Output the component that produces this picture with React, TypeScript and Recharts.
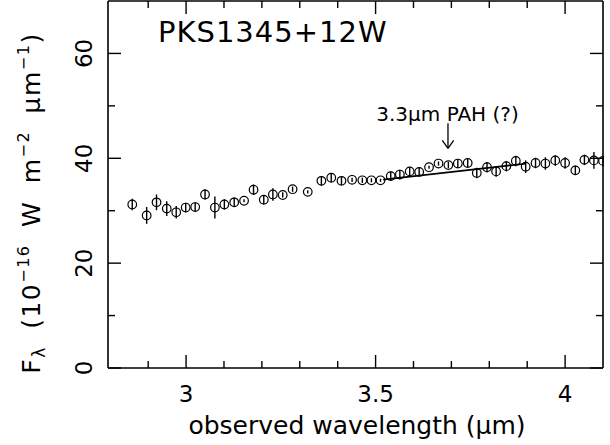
import React from 'react';
import { ScatterChart, Scatter, XAxis, YAxis, ErrorBar, ReferenceLine } from 'recharts';

const waveX = [
  2.858, 2.896, 2.922, 2.949, 2.974, 2.999, 3.024, 3.05, 3.076, 3.101,
  3.127, 3.153, 3.178, 3.205, 3.229, 3.255, 3.281, 3.321, 3.357, 3.383,
  3.41, 3.438, 3.465, 3.489, 3.513, 3.54, 3.564, 3.59, 3.615, 3.641,
  3.666, 3.692, 3.717, 3.743, 3.767, 3.794, 3.818, 3.845, 3.87, 3.896,
  3.922, 3.948, 3.974, 4.0, 4.027, 4.051, 4.076, 4.1,
];
const fluxY = [
  31.2, 29.1, 31.6, 30.4, 29.7, 30.6, 30.7, 33.1, 30.6, 31.2,
  31.6, 31.9, 34.0, 32.1, 33.1, 33.0, 34.1, 33.6, 35.7, 36.3,
  35.7, 35.9, 35.8, 35.8, 35.8, 36.6, 36.9, 37.5, 37.4, 38.3,
  39.0, 38.7, 39.0, 39.1, 37.2, 38.3, 37.5, 38.5, 39.5, 38.4,
  39.1, 39.0, 39.6, 39.1, 37.7, 39.7, 39.6, 39.5,
];
const fluxErr = [
  1.1, 1.6, 1.5, 1.4, 1.2, 0.9, 0.9, 1.0, 2.1, 1.0,
  0.9, 0.3, 1.0, 0.9, 1.2, 0.5, 0.5, 0.3, 0.9, 0.9,
  0.8, 0.4, 0.5, 0.4, 0.3, 0.9, 0.9, 0.8, 0.8, 0.3,
  0.4, 0.6, 0.8, 0.8, 1.0, 1.0, 1.0, 1.0, 1.0, 1.2,
  1.0, 1.2, 1.0, 1.1, 0.9, 1.0, 1.6, 1.0,
];

const continuumX = [3.52, 3.897];
const continuumY = [35.94, 39.0];

const arrowX = 3.691;
const arrowTopY = 46.7;
const arrowTipY = 41.9;
const arrowHeadY = 43.43;
const arrowHeadHalf = 0.015;

const xDomain = [2.794, 4.1];
const yDomain = [0, 70];
const xTickValues = [2.9, 3.0, 3.1, 3.2, 3.3, 3.4, 3.5, 3.6, 3.7, 3.8, 3.9, 4.0];
const xMajorTicks = [3, 3.5, 4];
const xTickLabels = ['3', '3.5', '4'];
const yTickValues = [0, 10, 20, 30, 40, 50, 60];
const yMajorTicks = [0, 20, 40, 60];
const yTickLabels = ['0', '20', '40', '60'];

const data = waveX.map((x, i) => ({ x, y: fluxY[i], err: fluxErr[i] }));

const FONT = "'DejaVu Sans', sans-serif";
const INK = '#000';
const majorIdx = (v: number, majors: number[]) => majors.findIndex((m) => Math.abs(m - v) < 1e-6);

function BottomTick(props: any) {
  const { x, y, payload } = props;
  const idx = majorIdx(payload.value, xMajorTicks);
  const len = idx >= 0 ? 13 : 7;
  return (
    <g>
      <line x1={x} x2={x} y1={y} y2={y - len} stroke={INK} strokeWidth={1.4} />
      {idx >= 0 && (
        <text x={x} y={y + 34} textAnchor="middle" fontFamily={FONT} fontSize={23} fill={INK}>
          {xTickLabels[idx]}
        </text>
      )}
    </g>
  );
}

function TopTick(props: any) {
  const { x, y, payload } = props;
  const idx = majorIdx(payload.value, xMajorTicks);
  const len = idx >= 0 ? 13 : 7;
  return <line x1={x} x2={x} y1={y} y2={y + len} stroke={INK} strokeWidth={1.4} />;
}

function LeftTick(props: any) {
  const { x, y, payload } = props;
  const idx = majorIdx(payload.value, yMajorTicks);
  const len = idx >= 0 ? 13 : 7;
  const bx = x - 16;
  return (
    <g>
      <line x1={x} x2={x + len} y1={y} y2={y} stroke={INK} strokeWidth={1.4} />
      {idx >= 0 && (
        <text
          x={bx}
          y={y}
          transform={`rotate(-90 ${bx} ${y})`}
          textAnchor="middle"
          fontFamily={FONT}
          fontSize={23}
          fill={INK}
        >
          {yTickLabels[idx]}
        </text>
      )}
    </g>
  );
}

function RightTick(props: any) {
  const { x, y, payload } = props;
  const idx = majorIdx(payload.value, yMajorTicks);
  const len = idx >= 0 ? 13 : 7;
  return <line x1={x} x2={x - len} y1={y} y2={y} stroke={INK} strokeWidth={1.4} />;
}

function PointShape(props: any) {
  const { cx, cy } = props;
  if (cx == null || cy == null) return null;
  return <circle cx={cx} cy={cy} r={4.3} fill="none" stroke={INK} strokeWidth={1.2} />;
}

const axisLine = { stroke: INK, strokeWidth: 1.6 };

export default function App() {
  return (
    <div style={{ position: 'absolute', left: 0, top: 0, width: 610, height: 445, background: '#fff' }}>
      <ScatterChart width={610} height={445} margin={{ top: 0, right: 6, bottom: 76, left: 107 }}>
        <XAxis
          xAxisId="b"
          dataKey="x"
          type="number"
          orientation="bottom"
          domain={xDomain}
          allowDataOverflow
          ticks={xTickValues}
          interval={0}
          height={1}
          tickSize={0}
          tickMargin={0}
          tickLine={false}
          axisLine={axisLine}
          tick={<BottomTick />}
        />
        <XAxis
          xAxisId="t"
          dataKey="x"
          type="number"
          orientation="top"
          domain={xDomain}
          allowDataOverflow
          ticks={xTickValues}
          interval={0}
          height={1}
          tickSize={0}
          tickMargin={0}
          tickLine={false}
          axisLine={axisLine}
          tick={<TopTick />}
        />
        <YAxis
          yAxisId="l"
          dataKey="y"
          type="number"
          orientation="left"
          domain={yDomain}
          allowDataOverflow
          ticks={yTickValues}
          interval={0}
          width={1}
          tickSize={0}
          tickMargin={0}
          tickLine={false}
          axisLine={axisLine}
          tick={<LeftTick />}
        />
        <YAxis
          yAxisId="r"
          dataKey="y"
          type="number"
          orientation="right"
          domain={yDomain}
          allowDataOverflow
          ticks={yTickValues}
          interval={0}
          width={1}
          tickSize={0}
          tickMargin={0}
          tickLine={false}
          axisLine={axisLine}
          tick={<RightTick />}
        />
        <ReferenceLine
          xAxisId="b"
          yAxisId="l"
          segment={[
            { x: continuumX[0], y: continuumY[0] },
            { x: continuumX[1], y: continuumY[1] },
          ]}
          stroke={INK}
          strokeWidth={1.8}
          ifOverflow="visible"
        />
        <ReferenceLine
          xAxisId="b"
          yAxisId="l"
          segment={[
            { x: arrowX, y: arrowTopY },
            { x: arrowX, y: arrowTipY },
          ]}
          stroke={INK}
          strokeWidth={1.3}
          ifOverflow="visible"
        />
        <ReferenceLine
          xAxisId="b"
          yAxisId="l"
          segment={[
            { x: arrowX - arrowHeadHalf, y: arrowHeadY },
            { x: arrowX, y: arrowTipY },
          ]}
          stroke={INK}
          strokeWidth={1.3}
          ifOverflow="visible"
        />
        <ReferenceLine
          xAxisId="b"
          yAxisId="l"
          segment={[
            { x: arrowX + arrowHeadHalf, y: arrowHeadY },
            { x: arrowX, y: arrowTipY },
          ]}
          stroke={INK}
          strokeWidth={1.3}
          ifOverflow="visible"
        />
        <Scatter
          xAxisId="b"
          yAxisId="l"
          data={data}
          shape={<PointShape />}
          isAnimationActive={false}
        >
          <ErrorBar dataKey="err" direction="y" width={0} stroke={INK} strokeWidth={1.4} isAnimationActive={false} />
        </Scatter>
      </ScatterChart>
      <svg
        width={610}
        height={445}
        style={{ position: 'absolute', left: 0, top: 0, pointerEvents: 'none' }}
      >
        <text x={158} y={42} fontFamily={FONT} fontSize={29} letterSpacing={1} fill={INK}>
          PKS1345+12W
        </text>
        <text x={447.5} y={121} textAnchor="middle" fontFamily={FONT} fontSize={20} fill={INK}>
          3.3μm PAH (?)
        </text>
        <text x={357} y={434} textAnchor="middle" fontFamily={FONT} fontSize={25} fill={INK}>
          observed wavelength (μm)
        </text>
        <text
          x={40}
          y={203}
          transform="rotate(-90 40 203)"
          textAnchor="middle"
          fontFamily={FONT}
          fontSize={25}
          letterSpacing={1.5}
          wordSpacing={8}
          fill={INK}
        >
          F<tspan fontSize={17} dy={5}>λ</tspan>
          <tspan dy={-5}> (10</tspan>
          <tspan fontSize={16} dy={-11}>−16</tspan>
          <tspan dy={11}> W m</tspan>
          <tspan fontSize={16} dy={-11}>−2</tspan>
          <tspan dy={11}> μm</tspan>
          <tspan fontSize={16} dy={-11}>−1</tspan>
          <tspan dy={11}>)</tspan>
        </text>
      </svg>
    </div>
  );
}
